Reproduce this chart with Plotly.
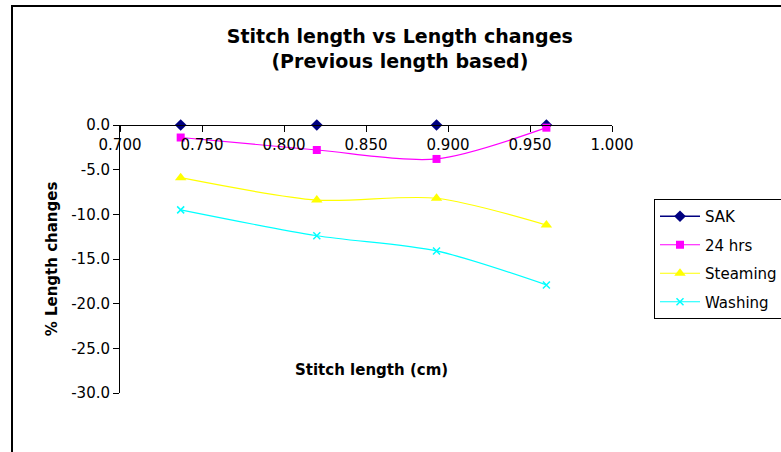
import plotly.graph_objects as go

stitch_length = [0.737, 0.820, 0.893, 0.960]
sak = [0.0, 0.0, 0.0, 0.0]
hrs24 = [-1.4, -2.8, -3.8, -0.3]
steaming = [-5.9, -8.4, -8.2, -11.2]
washing = [-9.5, -12.4, -14.1, -17.9]

x_ticks = [0.700, 0.750, 0.800, 0.850, 0.900, 0.950, 1.000]
y_ticks = [0, -5, -10, -15, -20, -25, -30]

FONT = "DejaVu Sans, Arial, sans-serif"

fig = go.Figure()
series = [
    ("SAK", sak, "#000080", "diamond", 9, 1.5),
    ("24 hrs", hrs24, "#FF00FF", "square", 8, 1.2),
    ("Steaming", steaming, "#FFFF00", "triangle-up", 10, 1.2),
    ("Washing", washing, "#00FFFF", "x-thin", 7, 1.2),
]
for name, ys, color, sym, size, lw in series:
    fig.add_trace(go.Scatter(
        x=stitch_length, y=ys, name=name, mode="lines+markers",
        legendgroup=name, cliponaxis=False,
        line=dict(color=color, width=lw, shape="spline", smoothing=0.8),
        marker=dict(symbol=sym, size=size, color=color,
                    line=dict(color=color, width=1.5 if sym == "x-thin" else 0)),
    ))

fig.update_layout(
    width=781, height=452,
    margin=dict(l=120, r=169, t=125, b=59),
    paper_bgcolor="white", plot_bgcolor="white",
    font=dict(family=FONT, size=15, color="black"),
    title=dict(text="<b>Stitch length vs Length changes<br>(Previous length based)</b>",
               x=0.512, xanchor="center", y=0.905, yanchor="top",
               font=dict(family=FONT, size=19, color="black")),
    xaxis=dict(range=[0.7, 1.0], tickvals=x_ticks, tickformat=".3f",
               anchor="free", position=1, side="bottom",
               showline=True, linecolor="black", linewidth=1,
               ticks="outside", ticklen=6, tickcolor="black",
               showgrid=False, zeroline=False,
               tickfont=dict(size=15),
               title=None),
    yaxis=dict(range=[-30, 0], tickvals=y_ticks,
               ticktext=[f"{v:.1f}" for v in y_ticks],
               showline=True, linecolor="black", linewidth=1,
               ticks="outside", ticklen=6, tickcolor="black",
               showgrid=False, zeroline=False,
               tickfont=dict(size=15),
               title=dict(text="<b>% Length changes</b>", font=dict(size=15), standoff=9)),
    legend=dict(xref="container", yref="container",
                x=654 / 781, y=1 - 199 / 452, xanchor="left", yanchor="top",
                bordercolor="black", borderwidth=1, bgcolor="white",
                font=dict(size=15), itemwidth=40, tracegroupgap=6,
                entrywidth=110, traceorder="grouped"),
    showlegend=True,
)

fig.add_annotation(text="<b>Stitch length (cm)</b>", xref="paper", yref="paper",
                   x=(371 - 120) / 492, y=(393 - 370) / 268, xanchor="center", yanchor="middle",
                   showarrow=False, font=dict(family=FONT, size=15, color="black"))

fig.add_shape(type="rect", xref="paper", yref="paper",
              x0=(12 - 120) / 492, x1=(800 - 120) / 492,
              y0=(393 - 470) / 268, y1=1 + (125 - 6) / 268,
              line=dict(color="black", width=2), layer="below")

fig.write_html("out.html", config={"displayModeBar": False},
               post_script="document.body.style.margin='0';document.body.style.overflow='hidden';")
